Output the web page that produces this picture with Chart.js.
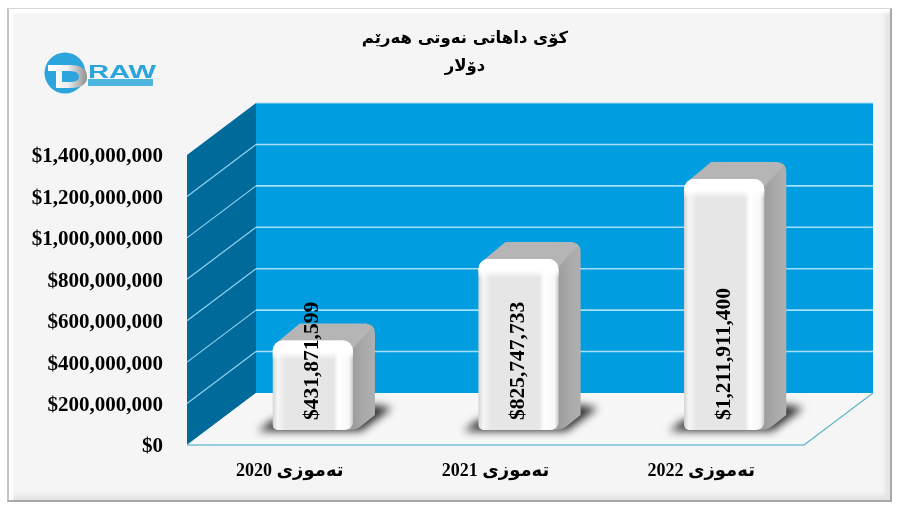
<!DOCTYPE html>
<html>
<head>
<meta charset="utf-8">
<style>
  html, body { margin: 0; padding: 0; background: #fff; }
  #wrap { position: relative; width: 898px; height: 508px; overflow: hidden; }
  #frame {
    position: absolute; left: 7px; top: 8px; width: 885px; height: 494px;
    background: #f5f5f5;
    border-left: 2px solid #c4c4c4; border-top: 1px solid #d8d8d8;
    border-right: 2px solid #a8a8a8; border-bottom: 2px solid #a8a8a8;
    box-shadow: inset 4px 4px 3px #fff, inset -5px -5px 4px #e4e4e4;
    box-sizing: border-box;
  }
  canvas { position: absolute; left: 0; top: 0; }
  #logo { position: absolute; left: 40px; top: 46px; }
</style>
</head>
<body>
<div id="wrap">
  <div id="frame"></div>
  <canvas id="chart" width="898" height="508" dir="rtl"></canvas>
  <svg id="logo" width="125" height="55" viewBox="0 0 125 55">
    <defs>
      <linearGradient id="dGrad" x1="0" x2="1" y1="0" y2="0">
        <stop offset="0" stop-color="#ffffff"/>
        <stop offset="0.5" stop-color="#f0f0f0"/>
        <stop offset="1" stop-color="#8f8f8f"/>
      </linearGradient>
    </defs>
    <circle cx="25" cy="27" r="20.5" fill="#2ba5dc"/>
    <path d="M8 19 H30 Q47 19 47 31 Q47 42 30 42 H16 V25 H8 Z M22 25 V36 H30 Q39 36 39 31 Q39 25 30 25 Z" fill="url(#dGrad)" fill-rule="evenodd"/>
    <text x="48" y="32" font-family="'Liberation Sans'" font-weight="bold" font-size="18.5" fill="#2ba5dc" textLength="68" lengthAdjust="spacingAndGlyphs">RAW</text>
    <rect x="48" y="33" width="65" height="7" fill="#4db6e0"/>
  </svg>
</div>
<script src="https://cdn.jsdelivr.net/npm/chart.js@4"></script>
<script>
const categories = ['تەموزی 2020', 'تەموزی 2021', 'تەموزی 2022'];
const revenue = [431871599, 825747733, 1211911400];
const titleLines = ['کۆی داهاتی نەوتی هەرێم', 'دۆلار'];
const axisMax = 1400000000;
const axisStep = 200000000;

// 3d look: wall depth, and where a bar sits inside that depth
const DEPTH_X = 69, DEPTH_Y = -52;
const BAR_X = 23, BAR_Y = -15;
const SIDE_X = 22, SIDE_Y = -17;

const money = v => '$' + Number(v).toLocaleString('en-US');

function poly(ctx, pts, fill) {
  ctx.beginPath();
  pts.forEach((p, i) => i ? ctx.lineTo(p[0], p[1]) : ctx.moveTo(p[0], p[1]));
  ctx.closePath();
  ctx.fillStyle = fill;
  ctx.fill();
}

function line(ctx, x1, y1, x2, y2, color, width) {
  ctx.beginPath();
  ctx.moveTo(x1, y1);
  ctx.lineTo(x2, y2);
  ctx.strokeStyle = color;
  ctx.lineWidth = width;
  ctx.stroke();
}

// the room behind the bars: back wall, left wall, floor, grid lines
const roomPlugin = {
  id: 'room',
  beforeDatasetsDraw(chart) {
    const { ctx, chartArea: a, scales: { y } } = chart;
    const bx = DEPTH_X, by = DEPTH_Y;
    ctx.save();
    ctx.direction = 'ltr';
    poly(ctx, [[a.left + bx, a.top + by], [a.right + bx, a.top + by], [a.right + bx, a.bottom + by], [a.left + bx, a.bottom + by]], '#009ee0');
    poly(ctx, [[a.left, a.top], [a.left + bx, a.top + by], [a.left + bx, a.bottom + by], [a.left, a.bottom]], '#006a9a');
    poly(ctx, [[a.left, a.bottom], [a.left + bx, a.bottom + by], [a.right + bx, a.bottom + by], [a.right, a.bottom]], '#f7f7f7');
    y.ticks.forEach(t => {
      const py = y.getPixelForValue(t.value);
      if (t.value === 0 || t.value === axisMax) return;
      line(ctx, a.left, py, a.left + bx, py + by, '#8fd3ee', 1.2);
      line(ctx, a.left + bx, py + by, a.right + bx, py + by, '#a5def5', 1.6);
    });
    line(ctx, a.left + bx, a.top + by, a.right + bx, a.top + by, '#a5def5', 1);
    line(ctx, a.left, a.bottom, a.right, a.bottom, '#78bcd9', 1.4);
    line(ctx, a.right, a.bottom, a.right + bx, a.bottom + by, '#5fb3cf', 1.2);

    // soft shadow under each bar, then its side and top faces
    chart.getDatasetMeta(0).data.forEach(bar => {
      const l = bar.x - bar.width / 2 + BAR_X, r = bar.x + bar.width / 2 + BAR_X;
      const top = bar.y + BAR_Y, base = bar.base + BAR_Y;
      ctx.save();
      ctx.filter = 'blur(4px)';
      poly(ctx, [[l - 15, base + 1], [l, base - 10], [r + SIDE_X, base + SIDE_Y - 8], [r + SIDE_X + 17, base - 22], [r + 8, base + 1]], '#2e2e2e');
      ctx.restore();

      const rad = 10;
      const g = ctx.createLinearGradient(r, 0, r + SIDE_X, 0);
      g.addColorStop(0, '#9d9d9d');
      g.addColorStop(0.5, '#a9a9a9');
      g.addColorStop(1, '#b0b0b0');
      ctx.beginPath();
      ctx.moveTo(r - 4, base);
      ctx.quadraticCurveTo(r + 3, base, r + 7, base - 3);
      ctx.lineTo(r + SIDE_X, base + SIDE_Y + 2);
      ctx.lineTo(r + SIDE_X, top + SIDE_Y + rad);
      ctx.quadraticCurveTo(r + SIDE_X, top + SIDE_Y, r + SIDE_X - rad, top + SIDE_Y);
      ctx.lineTo(r - 4, top + 8);
      ctx.closePath();
      ctx.fillStyle = g;
      ctx.fill();
      poly(ctx, [[l + 3, top + 3], [l + SIDE_X + 5, top + SIDE_Y], [r + SIDE_X - 9, top + SIDE_Y], [r + SIDE_X - 3, top + SIDE_Y + 4], [r, top + 8]], '#b5b5b5');
    });
    ctx.restore();
  },
  // the library draws the bar front, shifted into the room's depth
  beforeDatasetDraw(chart) {
    chart.ctx.save();
    chart.ctx.translate(BAR_X, BAR_Y);
  },
  afterDatasetDraw(chart) {
    const { ctx } = chart;
    // white bevel along the top edge of each front face
    chart.getDatasetMeta(0).data.forEach(bar => {
      const l = bar.x - bar.width / 2;
      const g = ctx.createLinearGradient(0, bar.y, 0, bar.y + 19);
      g.addColorStop(0, '#ffffff');
      g.addColorStop(0.6, '#ffffff');
      g.addColorStop(1, 'rgba(255,255,255,0)');
      ctx.beginPath();
      ctx.roundRect(l, bar.y, bar.width, 19, [10, 10, 0, 0]);
      ctx.fillStyle = g;
      ctx.fill();
    });
    ctx.restore();
  },
  afterDatasetsDraw(chart) {
    const { ctx } = chart;
    ctx.save();
    ctx.direction = 'ltr';
    ctx.fillStyle = '#000';
    ctx.font = 'bold 21.5px "Liberation Serif"';
    ctx.textAlign = 'left';
    ctx.textBaseline = 'middle';
    chart.getDatasetMeta(0).data.forEach((bar, i) => {
      ctx.save();
      ctx.translate(bar.x + BAR_X, bar.base + BAR_Y - 10);
      ctx.rotate(-Math.PI / 2);
      ctx.fillText(money(revenue[i]), 0, 0);
      ctx.restore();
    });
    ctx.restore();
  }
};

function frontFace(c) {
  const { chart, dataIndex } = c;
  if (!chart.chartArea) return '#e6e6e6';
  const x = chart.scales.x.getPixelForValue(dataIndex);
  const w = chart.getDatasetMeta(0).data[dataIndex].width || 80;
  const g = chart.ctx.createLinearGradient(x - w / 2, 0, x + w / 2, 0);
  g.addColorStop(0, '#d4d4d4');
  g.addColorStop(0.06, '#f6f6f6');
  g.addColorStop(0.16, '#e6e6e6');
  g.addColorStop(0.76, '#e6e6e6');
  g.addColorStop(0.82, '#ffffff');
  g.addColorStop(0.95, '#f8f8f8');
  g.addColorStop(1, '#cccccc');
  return g;
}

new Chart(document.getElementById('chart'), {
  type: 'bar',
  data: {
    labels: categories,
    datasets: [{
      data: revenue,
      backgroundColor: frontFace,
      borderWidth: 0,
      borderRadius: { topLeft: 10, topRight: 10, bottomLeft: 5, bottomRight: 8 },
      borderSkipped: false,
      barPercentage: 0.39,
      categoryPercentage: 1,
      clip: false
    }]
  },
  options: {
    responsive: false,
    animation: false,
    layout: { padding: { left: 32, right: 0, top: 0, bottom: 0 } },
    plugins: {
      legend: { display: false },
      tooltip: { enabled: false },
      title: {
        display: true,
        text: titleLines,
        color: '#000',
        font: { family: '"DejaVu Sans"', size: 16.5, weight: 'bold', lineHeight: 1.7 },
        padding: { top: 25, bottom: 73.9 }
      }
    },
    scales: {
      x: {
        grid: { display: false },
        border: { display: false },
        afterFit: s => { s.height = 63; },
        ticks: {
          color: '#000',
          padding: 8,
          maxRotation: 0,
          font: { family: '"Liberation Serif", "DejaVu Sans"', size: 18, weight: 'bold' }
        }
      },
      y: {
        min: 0,
        max: axisMax,
        grid: { display: false },
        border: { display: false },
        afterFit: s => { s.width = 155; },
        ticks: {
          stepSize: axisStep,
          color: '#000',
          padding: 16,
          labelOffset: 2,
          callback: money,
          font: { family: '"Liberation Serif"', size: 21, weight: 'bold' }
        }
      },
      // empty axis only keeps room for the wall depth on the right
      side: {
        position: 'right',
        grid: { display: false },
        border: { display: false },
        ticks: { display: false },
        afterFit: s => { s.width = 94; }
      }
    }
  },
  plugins: [roomPlugin]
});
</script>
</body>
</html>
